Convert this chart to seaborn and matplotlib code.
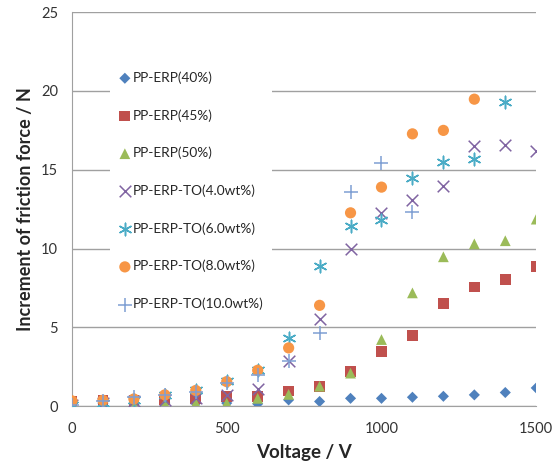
import pandas as pd
import matplotlib
matplotlib.use("Agg")
import matplotlib.pyplot as plt
import seaborn as sns

# voltage steps
voltage = [0, 100, 200, 300, 400, 500, 600, 700, 800, 900, 1000, 1100, 1200, 1300, 1400, 1500]

# increment of friction force (N)
erp40 = [0.2, 0.2, 0.2, 0.2, 0.2, 0.2, 0.15, 0.4, 0.3, 0.5, 0.5, 0.57, 0.63, 0.72, 0.87, 1.16]
erp45 = [0.3, 0.35, 0.35, 0.4, 0.5, 0.6, 0.6, 0.97, 1.23, 2.18, 3.49, 4.5, 6.5, 7.57, 8.04, 8.88]
erp50 = [0.1, 0.1, 0.2, 0.2, 0.2, 0.2, 0.5, 0.75, 1.27, 2.1, 4.23, 7.19, 9.48, 10.3, 10.5, 11.87]
to4 = [0.1, 0.2, 0.3, 0.4, 0.5, 0.7, 1.1, 2.85, 5.56, 9.96, 12.29, 13.1, 13.98, 16.5, 16.6, 16.2]
to6 = [0.1, 0.2, 0.4, 0.7, 1.0, 1.6, 2.3, 4.36, 8.9, 11.44, 11.8, 14.5, 15.5, 15.67, 19.3]
to8 = [0.34, 0.38, 0.46, 0.72, 1.0, 1.56, 2.28, 3.7, 6.4, 12.27, 13.9, 17.28, 17.5, 19.48]
to10 = [0.1, 0.3, 0.6, 0.7, 0.9, 1.5, 2.0, 2.9, 4.65, 13.56, 15.4, 12.33]

labels = ["PP-ERP(40%)", "PP-ERP(45%)", "PP-ERP(50%)", "PP-ERP-TO(4.0wt%)",
          "PP-ERP-TO(6.0wt%)", "PP-ERP-TO(8.0wt%)", "PP-ERP-TO(10.0wt%)"]
series = [erp40, erp45, erp50, to4, to6, to8, to10]
colors = ["#4F81BD", "#C0504D", "#9BBB59", "#8064A2", "#4BACC6", "#F79646", "#7F9FD3"]
markers = ["D", "s", "^", "x", (6, 2, 0), "o", "+"]
sizes = [32, 60, 60, 70, 80, 65, 90]

sns.set_style("white")
plt.rcParams["font.family"] = ["Lato", "DejaVu Sans"]

fig = plt.figure(figsize=(5.58, 4.68), dpi=100)
ax = fig.add_axes([0.129, 0.132, 0.832, 0.842])

for lab, vals, c, m, s in zip(labels, series, colors, markers, sizes):
    df = pd.DataFrame({"Voltage": voltage[:len(vals)], "Force": vals})
    if m in ("x", "+") or isinstance(m, tuple):
        sns.scatterplot(data=df, x="Voltage", y="Force", ax=ax, marker=m, color=c,
                        s=s, linewidth=1.1, label=lab, zorder=3)
    else:
        sns.scatterplot(data=df, x="Voltage", y="Force", ax=ax, marker=m, color=c,
                        s=s, edgecolor="none", label=lab, zorder=3)

ax.set_xlim(0, 1500)
ax.set_ylim(0, 25)
ax.set_xticks([0, 500, 1000, 1500])
ax.set_yticks([0, 5, 10, 15, 20, 25])
ax.yaxis.grid(True, color="#A0A0A0", linewidth=1)
ax.set_axisbelow(True)
for sp in ["top", "right"]:
    ax.spines[sp].set_visible(False)
for sp in ["left", "bottom"]:
    ax.spines[sp].set_color("#A0A0A0")
ax.tick_params(axis="both", direction="out", length=4, color="#A0A0A0",
               labelsize=10.5, labelcolor="#333333", pad=6)
ax.tick_params(axis="x", pad=7)
ax.set_xlabel("Voltage / V", fontsize=13.5, fontweight="bold", labelpad=6)
ax.set_ylabel("Increment of friction force / N", fontsize=13, fontweight="bold", labelpad=5)

leg = ax.legend(loc="upper left", bbox_to_anchor=(0.067, 0.888), frameon=True,
                fontsize=9.8, labelspacing=1.85, handletextpad=0.1, handlelength=1.0,
                borderpad=0.6, fancybox=False)
leg.get_frame().set_facecolor("white")
leg.get_frame().set_edgecolor("none")
leg.get_frame().set_alpha(1)

fig.savefig("out.png", dpi=100)
